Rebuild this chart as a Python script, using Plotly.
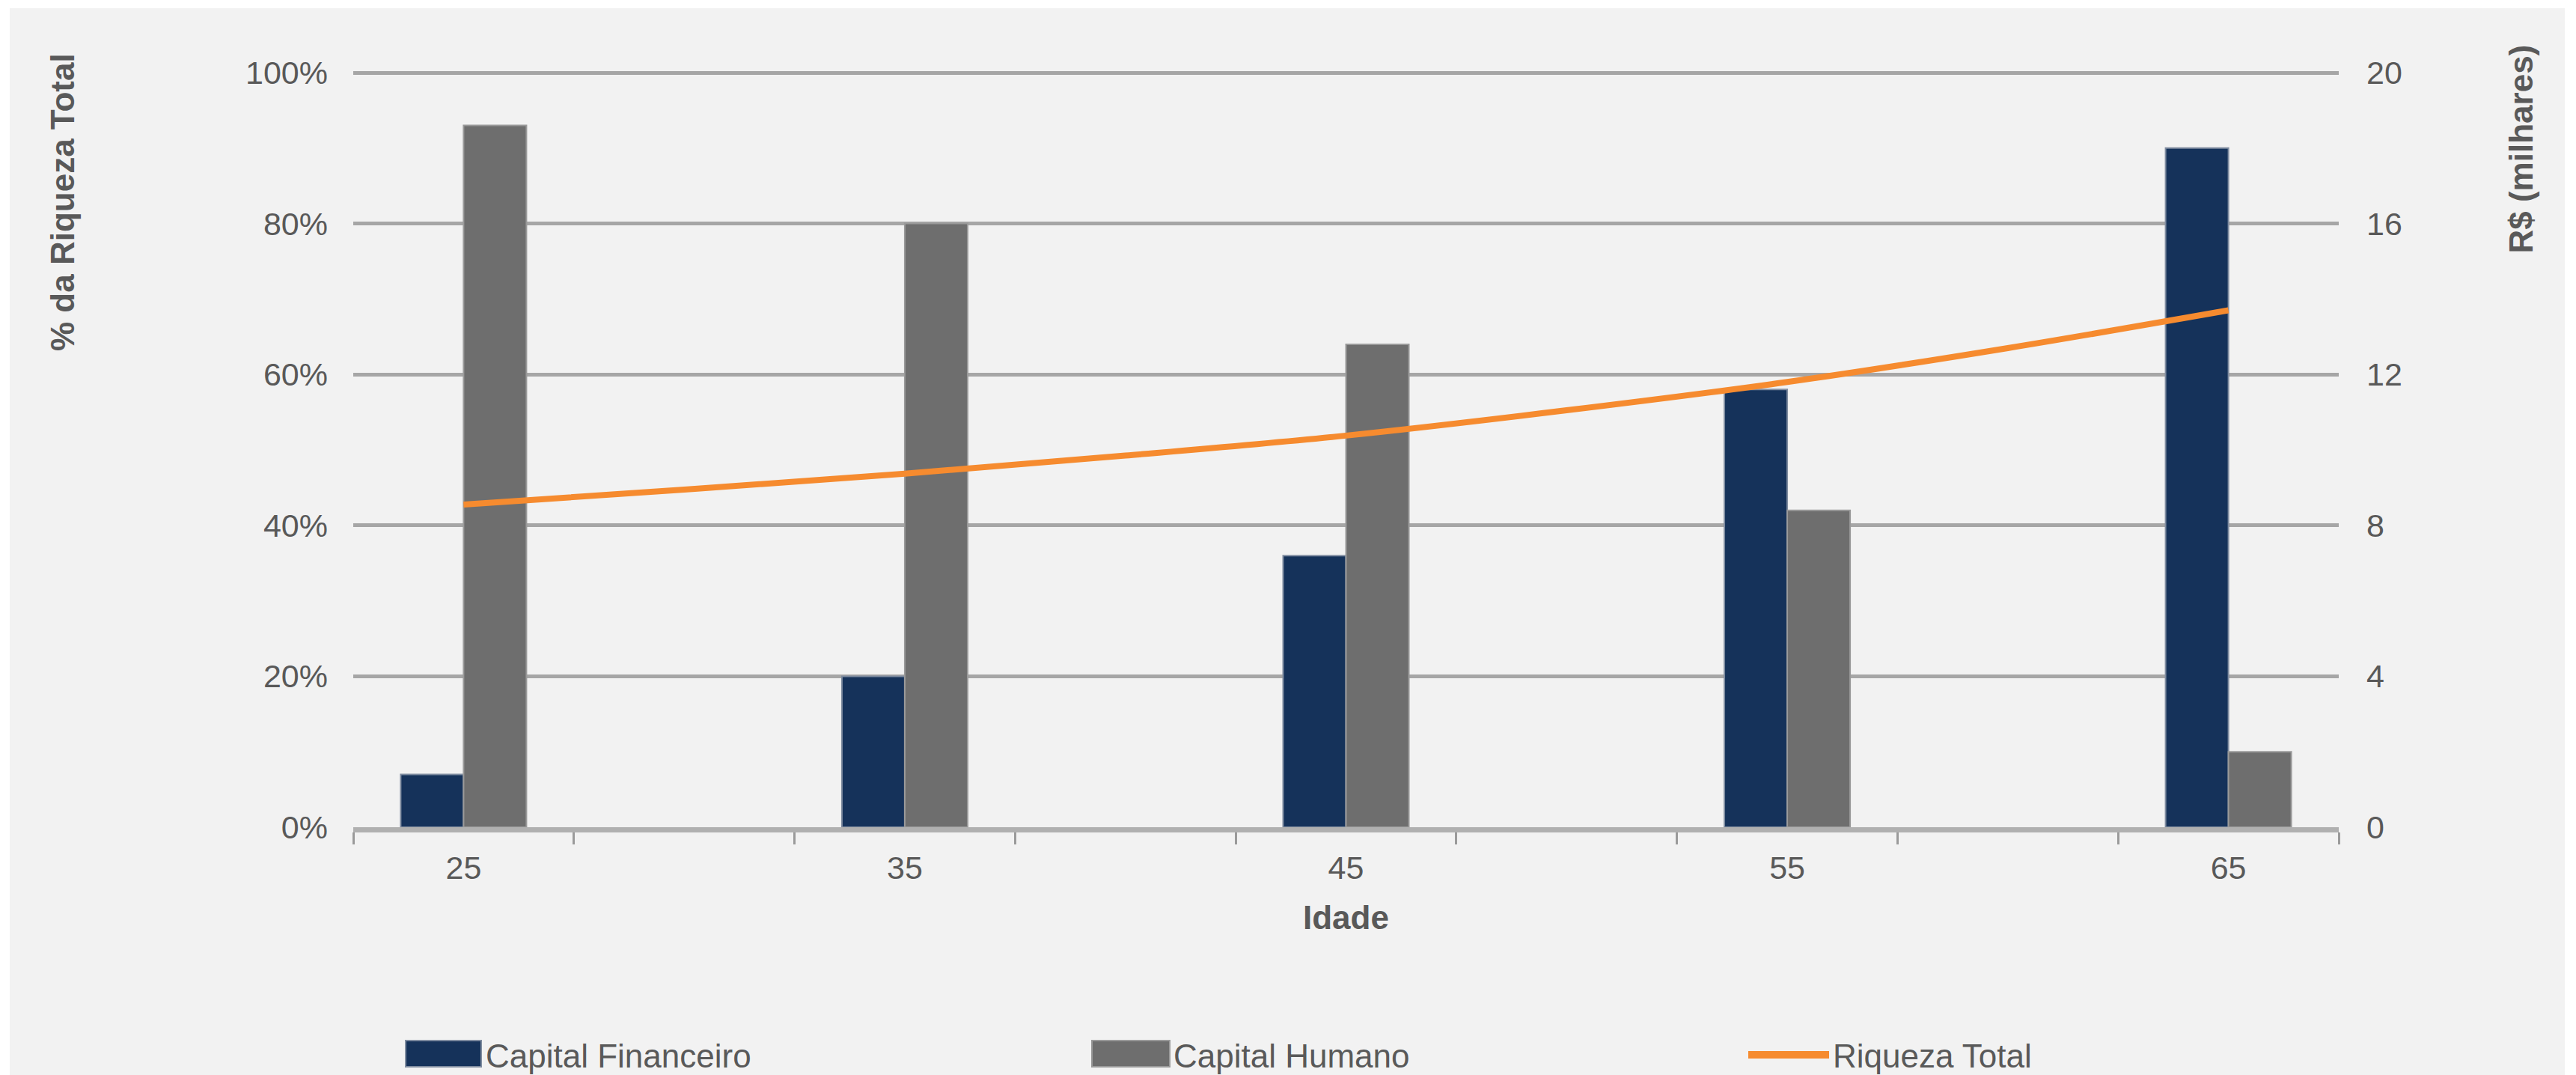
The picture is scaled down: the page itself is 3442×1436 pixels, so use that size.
import plotly.graph_objects as go

# ---- data ----
idades = ["25", "30", "35", "40", "45", "50", "55", "60", "65"]
idades_barras = ["25", "35", "45", "55", "65"]
capital_financeiro = [0.07, 0.20, 0.36, 0.58, 0.90]
capital_humano = [0.93, 0.80, 0.64, 0.42, 0.10]
riqueza_total = [8.55, 8.95, 9.37, 9.85, 10.38, 11.05, 11.8, 12.7, 13.7]
tick_text = ["25", "", "35", "", "45", "", "55", "", "65"]
pct_ticks = [0, 0.2, 0.4, 0.6, 0.8, 1.0]
rs_ticks = [0, 4, 8, 12, 16, 20]

W, H = 3442, 1436
TOP_PAD = 1.003  # small headroom so the 100% gridline is drawn
L, R, T, B = 472, 3125, 94, 1105  # plot area in px
FONT = "Arial, Liberation Sans, sans-serif"
TXT = "#595959"
NAVY = "#15325A"
GREY = "#6E6E6E"
ORANGE = "#F68B2F"


def px_x(px):
    return (px - L) / (R - L)


def px_y(py):
    return (B - py) / (B - T)


fig = go.Figure()
fig.add_trace(go.Bar(
    x=idades_barras, y=capital_financeiro, name="Capital Financeiro",
    marker=dict(color=NAVY, line=dict(color="#7F8CA0", width=2)),
    showlegend=False,
))
fig.add_trace(go.Bar(
    x=idades_barras, y=capital_humano, name="Capital Humano",
    marker=dict(color=GREY, line=dict(color="#9A9A9A", width=2)),
    showlegend=False,
))
fig.add_trace(go.Scatter(
    x=idades, y=riqueza_total, name="Riqueza Total", yaxis="y2",
    mode="lines", line=dict(color=ORANGE, width=8, shape="spline"),
    showlegend=False,
))

fig.update_layout(
    width=W, height=H,
    margin=dict(l=L, r=W - R, t=T, b=H - B, pad=0),
    paper_bgcolor="white",
    plot_bgcolor="rgba(0,0,0,0)",
    barmode="group", bargap=0.43, bargroupgap=0,
    font=dict(family=FONT, size=43, color=TXT),
    xaxis=dict(
        type="category", categoryorder="array", categoryarray=idades,
        tickmode="array", tickvals=idades, ticktext=tick_text,
        tickson="boundaries", ticks="outside", ticklen=16, tickwidth=3,
        tickcolor="#9A9A9A", showline=True, linecolor="#B0B0B0", linewidth=7,
        showgrid=False, ticklabelstandoff=10,
        tickfont=dict(size=43, color=TXT),
    ),
    yaxis=dict(
        range=[0, TOP_PAD], tickvals=pct_ticks, tickformat=".0%",
        showgrid=True, gridcolor="#A6A6A6", gridwidth=5,
        zeroline=False, showline=False, ticks="",
        ticklabelstandoff=33, tickfont=dict(size=43, color=TXT),
    ),
    yaxis2=dict(
        range=[0, 20 * TOP_PAD], tickvals=rs_ticks, overlaying="y", side="right",
        showgrid=False, zeroline=False, showline=False, ticks="",
        ticklabelstandoff=36, tickfont=dict(size=43, color=TXT),
    ),
)

shapes = [
    # chart background panel
    dict(type="rect", xref="paper", yref="paper", layer="below",
         x0=px_x(13), x1=px_x(3427), y0=px_y(1436), y1=px_y(11),
         fillcolor="#F2F2F2", line=dict(width=0)),
    # legend swatches
    dict(type="rect", xref="paper", yref="paper",
         x0=px_x(542), x1=px_x(643), y0=px_y(1425), y1=px_y(1390),
         fillcolor=NAVY, line=dict(color="#7F8CA0", width=2)),
    dict(type="rect", xref="paper", yref="paper",
         x0=px_x(1459), x1=px_x(1563), y0=px_y(1425), y1=px_y(1390),
         fillcolor=GREY, line=dict(color="#9A9A9A", width=2)),
    dict(type="line", xref="paper", yref="paper",
         x0=px_x(2336), x1=px_x(2444), y0=px_y(1409), y1=px_y(1409),
         line=dict(color=ORANGE, width=10)),
]

annotations = [
    dict(text="<b>% da Riqueza Total</b>", textangle=-90, xref="paper", yref="paper",
         x=px_x(83), y=px_y(69), xanchor="center", yanchor="top", showarrow=False,
         font=dict(size=44, color=TXT)),
    dict(text="<b>R$ (milhares)</b>", textangle=-90, xref="paper", yref="paper",
         x=px_x(3368), y=px_y(58), xanchor="center", yanchor="top", showarrow=False,
         font=dict(size=44, color=TXT)),
    dict(text="<b>Idade</b>", xref="paper", yref="paper",
         x=px_x(1798), y=px_y(1225), xanchor="center", yanchor="middle", showarrow=False,
         font=dict(size=44, color=TXT)),
    dict(text="Capital Financeiro", xref="paper", yref="paper",
         x=px_x(647), y=px_y(1410), xanchor="left", yanchor="middle", showarrow=False,
         font=dict(size=44, color=TXT)),
    dict(text="Capital Humano", xref="paper", yref="paper",
         x=px_x(1566), y=px_y(1410), xanchor="left", yanchor="middle", showarrow=False,
         font=dict(size=44, color=TXT)),
    dict(text="Riqueza Total", xref="paper", yref="paper",
         x=px_x(2447), y=px_y(1410), xanchor="left", yanchor="middle", showarrow=False,
         font=dict(size=44, color=TXT)),
]

fig.update_layout(shapes=shapes, annotations=annotations)
fig.write_html("out.html")
